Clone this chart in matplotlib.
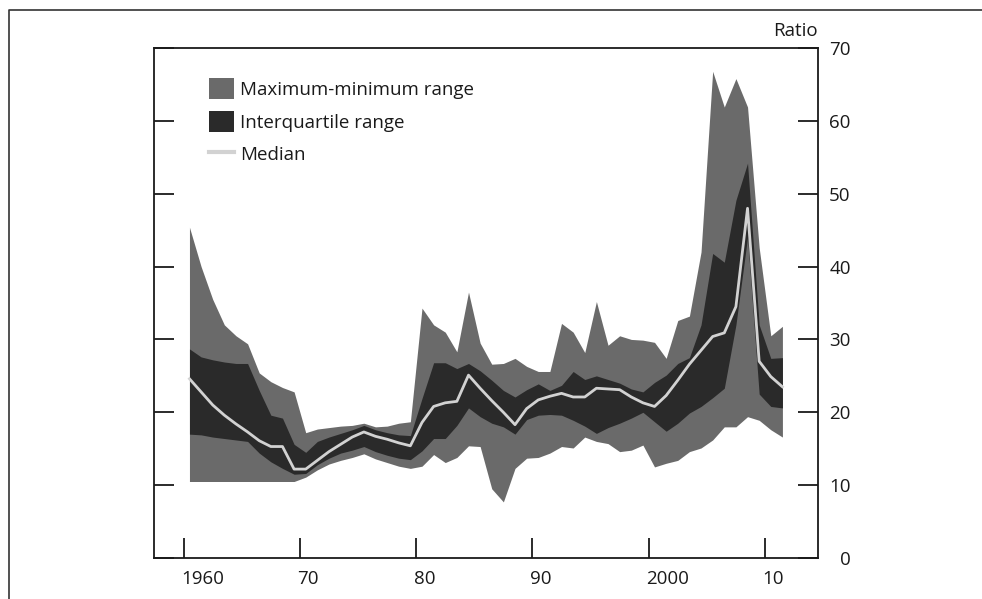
import matplotlib
matplotlib.use('Agg')
import matplotlib.pyplot as plt
import matplotlib.transforms as mtransforms
from matplotlib.patches import Patch
from matplotlib.lines import Line2D
import numpy as np

plt.rcParams['font.family'] = ['Open Sans', 'DejaVu Sans']

# annual data, 1960-2011
years = list(range(1960, 2012))

max_vals = [45.4, 40.0, 35.5, 32.0, 30.5, 29.4, 25.4, 24.2, 23.4, 22.8,
            17.2, 17.7, 17.9, 18.1, 18.2, 18.5, 18.0, 18.1, 18.5, 18.7,
            34.3, 32.0, 31.0, 28.3, 36.5, 29.5, 26.6, 26.7, 27.4, 26.3,
            25.6, 25.6, 32.2, 31.0, 28.2, 35.2, 29.2, 30.5, 30.0, 29.9,
            29.6, 27.4, 32.6, 33.2, 42.0, 66.8, 61.9, 65.8, 61.9, 42.6,
            30.5, 31.8]

q3_vals = [28.7, 27.6, 27.2, 26.9, 26.7, 26.7, 23.0, 19.6, 19.2, 15.6,
           14.5, 16.0, 16.6, 17.1, 17.6, 18.2, 17.6, 17.2, 16.9, 16.8,
           21.9, 26.8, 26.8, 26.0, 26.7, 25.7, 24.4, 23.0, 22.1, 23.1,
           23.9, 23.0, 23.7, 25.6, 24.5, 25.0, 24.5, 24.0, 23.2, 22.8,
           24.1, 25.1, 26.7, 27.5, 32.0, 41.8, 40.6, 49.1, 54.2, 32.0,
           27.4, 27.5]

median_vals = [24.6, 22.8, 21.0, 19.6, 18.4, 17.3, 16.1, 15.3, 15.3, 12.2,
               12.2, 13.4, 14.6, 15.6, 16.6, 17.3, 16.7, 16.3, 15.8, 15.4,
               18.6, 20.8, 21.3, 21.5, 25.1, 23.3, 21.6, 20.0, 18.3, 20.5,
               21.7, 22.2, 22.6, 22.1, 22.1, 23.3, 23.2, 23.1, 22.1, 21.3,
               20.8, 22.3, 24.4, 26.6, 28.5, 30.4, 30.9, 34.5, 48.0, 27.0,
               24.9, 23.5]

q1_vals = [17.0, 16.9, 16.6, 16.4, 16.2, 16.0, 14.4, 13.2, 12.3, 11.5,
           11.6, 12.8, 13.7, 14.4, 14.8, 15.3, 14.6, 14.1, 13.7, 13.5,
           14.7, 16.4, 16.4, 18.2, 20.6, 19.4, 18.5, 18.0, 17.0, 19.0,
           19.6, 19.7, 19.6, 18.9, 18.1, 17.1, 17.9, 18.5, 19.2, 20.0,
           18.7, 17.4, 18.5, 19.9, 20.8, 22.0, 23.3, 32.0, 44.0, 22.5,
           20.8, 20.6]

min_vals = [10.5, 10.5, 10.5, 10.5, 10.5, 10.5, 10.5, 10.5, 10.5, 10.5,
            11.1, 12.1, 12.9, 13.4, 13.8, 14.3, 13.6, 13.1, 12.6, 12.3,
            12.6, 14.2, 13.1, 13.8, 15.4, 15.3, 9.5, 7.7, 12.3, 13.7,
            13.8, 14.4, 15.3, 15.1, 16.6, 16.0, 15.7, 14.6, 14.8, 15.5,
            12.5, 13.0, 13.4, 14.6, 15.1, 16.2, 18.0, 18.0, 19.4, 18.9,
            17.6, 16.6]

xtick_pos = [1960, 1970, 1980, 1990, 2000, 2010]
xtick_labels = ['1960', '70', '80', '90', '2000', '10']
ytick_pos = [0, 10, 20, 30, 40, 50, 60, 70]

range_col = '#6a6a6a'
iqr_col = '#2a2a2a'
med_col = '#d2d2d2'
ink = '#1a1a1a'
fs = 13.5

fig = plt.figure(figsize=(9.82, 5.99), dpi=100)
ax = fig.add_axes([154 / 982, 41 / 599, 664 / 982, 510 / 599])

# annual observations plotted at mid-year
x = np.array(years) + 0.5
ax.fill_between(x, min_vals, max_vals, color=range_col, lw=0, zorder=1)
ax.fill_between(x, q1_vals, q3_vals, color=iqr_col, lw=0, zorder=2)
ax.plot(x, median_vals, color=med_col, lw=2.0, zorder=3)

ax.set_xlim(1957.45, 2014.56)
ax.set_ylim(0, 70)

for s in ax.spines.values():
    s.set_linewidth(1.3)
    s.set_color(ink)

ax.set_xticks(xtick_pos)
ax.set_xticklabels(xtick_labels)
ax.set_yticks(ytick_pos)
ax.set_yticklabels([str(v) for v in ytick_pos])

ax.tick_params(axis='x', direction='in', length=14.4, width=1.3, color=ink,
               labelsize=fs, labelcolor=ink, pad=8.5)
ax.tick_params(axis='y', direction='in', length=14.4, width=1.3, color=ink,
               left=True, right=True, labelleft=False, labelright=True,
               labelsize=fs, labelcolor=ink, pad=23.5)

# x labels start at the tick, y labels right-aligned
shift = mtransforms.ScaledTranslation(-2.5 / 100, 0, fig.dpi_scale_trans)
for lbl in ax.get_xticklabels():
    lbl.set_horizontalalignment('left')
    lbl.set_transform(lbl.get_transform() + shift)
for t in ax.yaxis.get_major_ticks():
    t.label2.set_horizontalalignment('right')

ax.text(1.0, 1.0 + 17 / 510, 'Ratio', transform=ax.transAxes, ha='right',
        va='center', fontsize=fs, color=ink)

handles = [Patch(facecolor=range_col, edgecolor='none', label='Maximum-minimum range'),
           Patch(facecolor=iqr_col, edgecolor='none', label='Interquartile range'),
           Line2D([], [], color=med_col, lw=3, label='Median')]
ax.legend(handles=handles, loc='upper left', bbox_to_anchor=(0.083, 0.941),
          frameon=False, fontsize=fs, borderpad=0, borderaxespad=0,
          handlelength=1.35, handleheight=1.35, handletextpad=0.3,
          labelspacing=0.62, labelcolor=ink)

# outer frame of the exhibit
fig.add_artist(Line2D([9 / 982, 9 / 982, 1.0], [0.0, 1 - 10 / 599, 1 - 10 / 599],
                      transform=fig.transFigure, color='#333333', lw=1.2))

fig.savefig('out.png', dpi=100, facecolor='white')
